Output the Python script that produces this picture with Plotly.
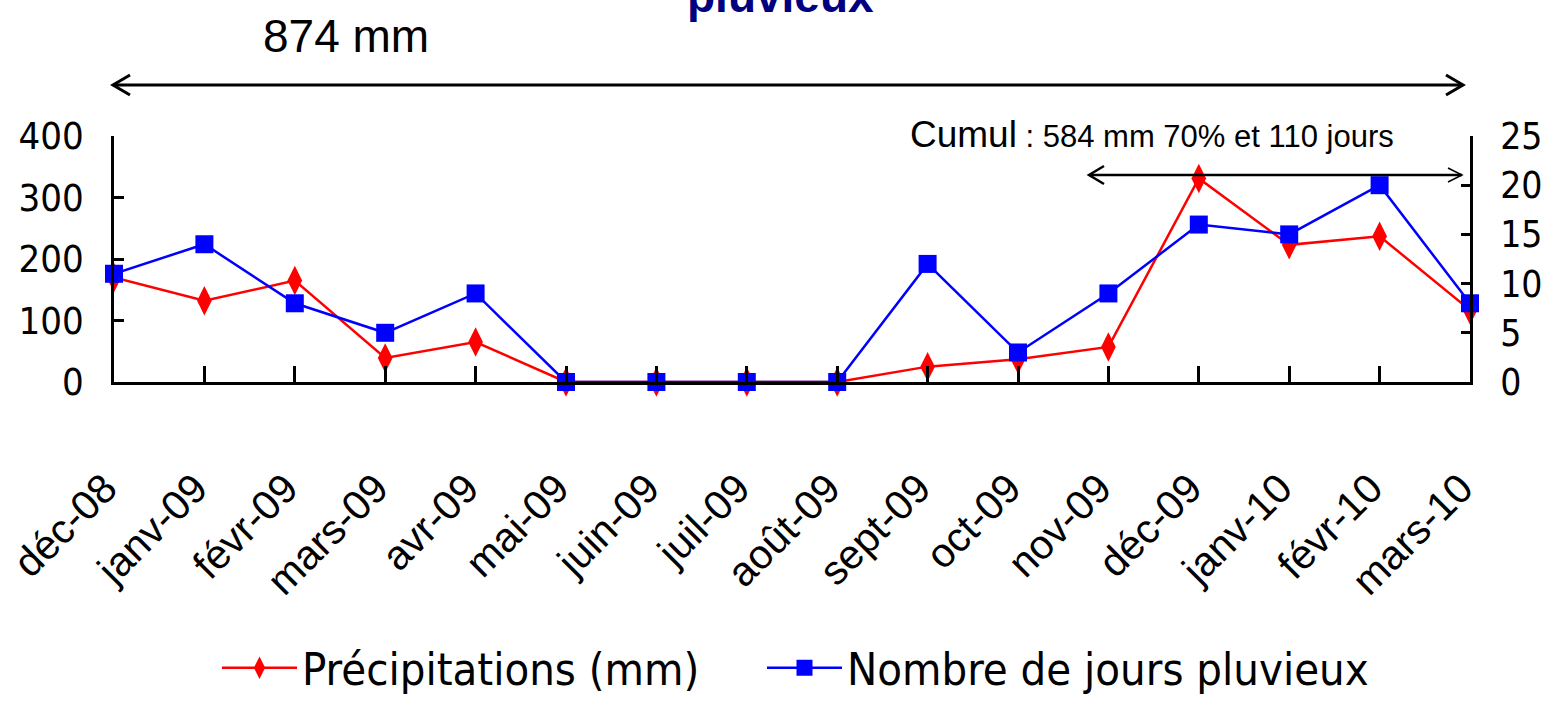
import plotly.graph_objects as go

months = ["déc-08", "janv-09", "févr-09", "mars-09", "avr-09", "mai-09", "juin-09", "juil-09",
          "août-09", "sept-09", "oct-09", "nov-09", "déc-09", "janv-10", "févr-10", "mars-10"]
precip_mm = [170, 132, 165, 39, 65, 0, 0, 0, 0, 25, 37, 57, 331, 223, 237, 117]
rain_days = [11, 14, 8, 5, 9, 0, 0, 0, 0, 12, 3, 9, 16, 15, 20, 8]

left_ticks = [0, 100, 200, 300, 400]
right_ticks = [0, 5, 10, 15, 20, 25]

W, H = 1543, 701
L, R, T, B = 114, 1470, 136, 382   # plot area in pixels


def px_x(p):
    return (p - L) / (R - L)


def px_y(p):
    return (B - p) / (B - T)


NARROW = "DejaVu Sans Condensed, Liberation Sans Narrow, Arial Narrow, Liberation Sans, sans-serif"
SANS = "Liberation Sans, Arial, sans-serif"

fig = go.Figure()
fig.add_trace(go.Scatter(
    x=months, y=precip_mm, name="Précipitations (mm)", mode="lines+markers",
    line=dict(color="#ff0000", width=2.5),
    marker=dict(symbol="diamond-tall", size=21, color="#ff0000"),
    cliponaxis=False, yaxis="y", legendwidth=455))
fig.add_trace(go.Scatter(
    x=months, y=rain_days, name="Nombre de jours pluvieux", mode="lines+markers",
    line=dict(color="#0000ff", width=2.5),
    marker=dict(symbol="square", size=18, color="#0000ff"),
    cliponaxis=False, yaxis="y2"))

axis_common = dict(showgrid=False, zeroline=False, showline=True, linecolor="black",
                   linewidth=2.5, ticks="inside", tickcolor="black", tickwidth=2.5,
                   automargin=False)

fig.update_layout(
    width=W, height=H,
    margin=dict(l=L, r=W - R, t=T, b=H - B, autoexpand=False),
    paper_bgcolor="white", plot_bgcolor="white",
    font=dict(family=SANS, color="black"),
    showlegend=True,
    legend=dict(orientation="h", xref="container", yref="container",
                x=217 / W, xanchor="left", y=1 - 668 / H, yanchor="middle",
                itemwidth=75,
                font=dict(family=NARROW, size=45, color="black"), bgcolor="rgba(0,0,0,0)"),
    xaxis=dict(**axis_common, type="category", range=[0, len(months) - 1], ticklen=16,
               tickangle=-45, tickfont=dict(family=SANS, size=41, color="black"),
               ticklabelstandoff=63, ticklabelshift=-9),
    yaxis=dict(**axis_common, range=[0, 400], tickvals=left_ticks, ticklen=10,
               tickfont=dict(family=NARROW, size=38, color="black"), ticklabelstandoff=20),
    yaxis2=dict(**axis_common, range=[0, 25], tickvals=right_ticks, ticklen=9, overlaying="y",
                side="right", tickfont=dict(family=NARROW, size=37, color="black"),
                ticklabelstandoff=20),
)

annotations = [
    dict(text="<b>pluvieux</b>", x=px_x(780), y=px_y(-4), xref="paper", yref="paper",
         xanchor="center", yanchor="middle", showarrow=False,
         font=dict(family=SANS, size=46, color="#000080")),
    dict(text="874 mm", x=px_x(346), y=px_y(36), xref="paper", yref="paper",
         xanchor="center", yanchor="middle", showarrow=False,
         font=dict(family=SANS, size=46, color="black")),
    dict(text="<span style='font-size:37px'>Cumul</span> : 584 mm 70% et 110 jours",
         x=px_x(908), y=px_y(134), xref="paper", yref="paper",
         xanchor="left", yanchor="middle", showarrow=False,
         font=dict(family=SANS, size=31, color="black")),
]
fig.update_layout(annotations=annotations)


def seg(x0, y0, x1, y1, w):
    return dict(type="line", xref="paper", yref="paper",
                x0=px_x(x0), y0=px_y(y0), x1=px_x(x1), y1=px_y(y1),
                line=dict(color="black", width=w))


def chevron(xt, yc, dx, dy, w):
    p = "M {:.5f},{:.5f} L {:.5f},{:.5f} L {:.5f},{:.5f}".format(
        px_x(xt + dx), px_y(yc - dy), px_x(xt), px_y(yc), px_x(xt + dx), px_y(yc + dy))
    return dict(type="path", xref="paper", yref="paper", path=p,
                line=dict(color="black", width=w))


shapes = [
    # whole-period double arrow
    seg(113, 85, 1463, 85, 3),
    chevron(113, 85, 17, 10, 3),
    chevron(1463, 85, -17, 10, 3),
    # rainy-season double arrow
    seg(1089, 175, 1462, 175, 2.5),
    chevron(1089, 175, 15, 9, 2.5),
    chevron(1462, 175, -14, 7, 1.5),
]
fig.update_layout(shapes=shapes)

fig.write_html("out.html", config={"displayModeBar": False},
               post_script="document.body.style.margin='0';")
